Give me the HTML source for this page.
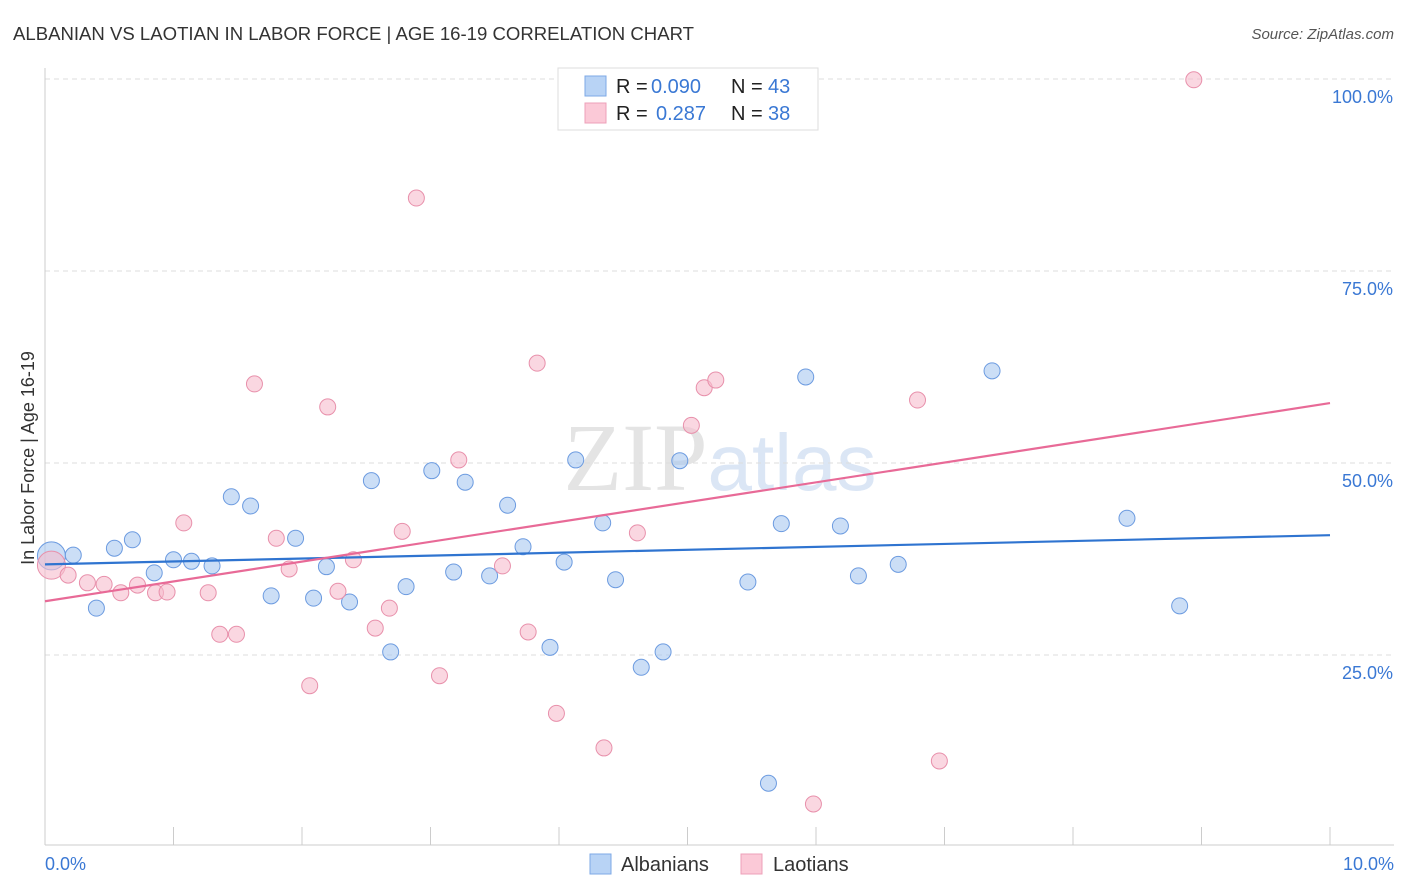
<!DOCTYPE html>
<html><head><meta charset="utf-8"><style>
body{margin:0;background:#fff;font-family:"Liberation Sans",sans-serif;}
svg{display:block}
</style></head><body>
<svg id="chart" width="1406" height="892">
<text x="13" y="40" font-size="18" fill="#333" textLength="681" lengthAdjust="spacingAndGlyphs">ALBANIAN VS LAOTIAN IN LABOR FORCE | AGE 16-19 CORRELATION CHART</text>
<text x="1394" y="39" font-size="15" fill="#555" font-style="italic" text-anchor="end">Source: ZipAtlas.com</text>
<text x="720" y="490" font-size="96" fill="#e4e4e4" text-anchor="middle" font-family="Liberation Serif,serif">ZIP<tspan fill="#dbe6f5" font-family="Liberation Sans,sans-serif" font-size="80">atlas</tspan></text>
<g id="grid"></g>
<g id="marks"></g>
<text x="34" y="458" font-size="18" fill="#333" text-anchor="middle" transform="rotate(-90 34 458)">In Labor Force | Age 16-19</text>
<text x="45" y="870" font-size="18" fill="#3a78d4">0.0%</text>
<text x="1394" y="870" font-size="18" fill="#3a78d4" text-anchor="end">10.0%</text>
<g>
<rect x="558" y="68" width="260" height="62" fill="#fff" stroke="#ddd"/>
<rect x="585" y="76" width="21" height="20" fill="#b8d3f5" stroke="#7ea8e6"/>
<rect x="585" y="103" width="21" height="20" fill="#fbc9d7" stroke="#eea0b8"/>
<text x="616" y="93" font-size="20" fill="#222">R = <tspan fill="#3a78d4" x="651">0.090</tspan><tspan x="731">N = </tspan><tspan fill="#3a78d4" x="768">43</tspan></text>
<text x="616" y="120" font-size="20" fill="#222">R = <tspan fill="#3a78d4" x="656">0.287</tspan><tspan x="731">N = </tspan><tspan fill="#3a78d4" x="768">38</tspan></text>
</g>
<g>
<rect x="590" y="854" width="21" height="20" fill="#b8d3f5" stroke="#7ea8e6"/>
<text x="621" y="871" font-size="20" fill="#333">Albanians</text>
<rect x="741" y="854" width="21" height="20" fill="#fbc9d7" stroke="#eea0b8"/>
<text x="773" y="871" font-size="20" fill="#333">Laotians</text>
</g>
</svg>
<script>
const blueX=[0.05,0.22,0.40,0.54,0.68,0.85,1.00,1.14,1.30,1.45,1.60,1.76,1.95,2.09,2.19,2.37,2.54,2.69,2.81,3.01,3.18,3.27,3.46,3.60,3.72,3.93,4.04,4.13,4.34,4.44,4.64,4.81,4.94,5.47,5.63,5.73,5.92,6.19,6.33,6.64,7.37,8.42,8.83];
const blueY=[37.9,38.0,31.1,38.9,40.0,35.7,37.4,37.2,36.6,45.6,44.4,32.7,40.2,32.4,36.5,31.9,47.7,25.4,33.9,49.0,35.8,47.5,35.3,44.5,39.1,26.0,37.1,50.4,42.2,34.8,23.4,25.4,50.3,34.5,8.3,42.1,61.2,41.8,35.3,36.8,62.0,42.8,31.4];
const pinkX=[0.05,0.18,0.33,0.46,0.59,0.72,0.86,0.95,1.08,1.27,1.36,1.49,1.63,1.80,1.90,2.06,2.20,2.28,2.40,2.57,2.68,2.78,2.89,3.07,3.22,3.56,3.76,3.83,3.98,4.35,4.61,5.03,5.13,5.22,5.98,6.79,6.96,8.94];
const pinkY=[36.7,35.4,34.4,34.2,33.1,34.1,33.1,33.2,42.2,33.1,27.7,27.7,60.3,40.2,36.2,21.0,57.3,33.3,37.4,28.5,31.1,41.1,84.5,22.3,50.4,36.6,28.0,63.0,17.4,12.9,40.9,54.9,59.8,60.8,5.6,58.2,11.2,99.9];
const blueTrend=[36.8,40.6];
const pinkTrend=[32.0,57.8];
const yTicks=[25,50,75,100];
const xTicks=[1,2,3,4,5,6,7,8,9,10];
const NS="http://www.w3.org/2000/svg";
const sx=v=>45+v*128.5, sy=v=>847-v*7.68;
function mk(tag,attrs,parent){const e=document.createElementNS(NS,tag);for(const k in attrs)e.setAttribute(k,attrs[k]);parent.appendChild(e);return e;}
const grid=document.getElementById('grid'), marks=document.getElementById('marks');
yTicks.forEach(t=>{
  const l=mk('line',{x1:45,x2:1394,y1:sy(t),y2:sy(t),stroke:'#ddd','stroke-dasharray':'5,4'},grid);
  
  
  const tx=mk('text',{x:1393,y:sy(t)+24,'font-size':18,fill:'#3a78d4','text-anchor':'end'},grid);
  tx.textContent=t.toFixed(1)+'%';
  
  
});
const ax=mk('line',{x1:45,x2:1394,y1:845,y2:845,stroke:'#ccc'},grid);


const ay=mk('line',{x1:45,x2:45,y1:68,y2:845,stroke:'#ccc'},grid);


xTicks.forEach(t=>{
  const l=mk('line',{x1:sx(t),x2:sx(t),y1:827,y2:845,stroke:'#ccc'},grid);
  
  
});
function dots(X,Y,fill,stroke,name){
  X.forEach((x,i)=>{
    const c=mk('circle',{cx:sx(x),cy:sy(Y[i]),r:i===0?14:8,fill:fill,'fill-opacity':0.6,stroke:stroke,'stroke-width':1},marks);
    
    
  });
}
dots(blueX,blueY,'#a9c8f0','#6c9be0','albanian-point');
dots(pinkX,pinkY,'#f7bccd','#e890ab','laotian-point');
const bl=mk('line',{x1:sx(0),x2:sx(10),y1:sy(blueTrend[0]),y2:sy(blueTrend[1]),stroke:'#2f74d0','stroke-width':2.2},marks);


const pl=mk('line',{x1:sx(0),x2:sx(10),y1:sy(pinkTrend[0]),y2:sy(pinkTrend[1]),stroke:'#e86a97','stroke-width':2.2},marks);


</script>
</body></html>
